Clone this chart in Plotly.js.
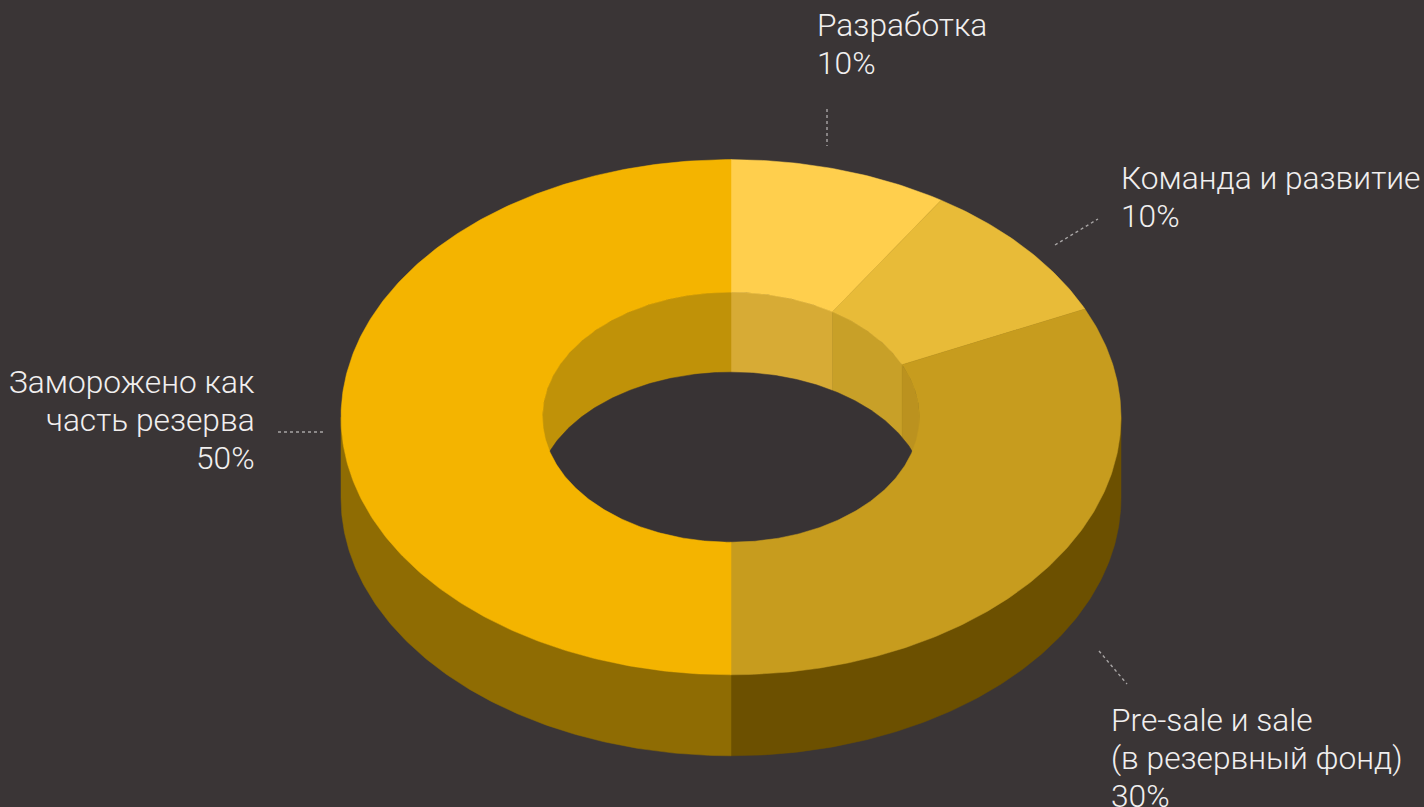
<!DOCTYPE html>
<html>
<head>
<meta charset="utf-8">
<script src="https://cdn.plot.ly/plotly-3.0.1.min.js"></script>
<style>html,body{margin:0;padding:0;background:#3a3536;overflow:hidden}#chart{width:1424px;height:807px}</style>
</head>
<body>
<div id="chart"></div>
<script>
// Data
const categories = ['Разработка', 'Команда и развитие', 'Pre-sale и sale|(в резервный фонд)', 'Заморожено как|часть резерва'];
const percentLabels = ['10%', '10%', '30%', '50%'];
// Drawn share of the ring per slice (as it appears in the picture, in percent of the turn)
const drawnShares = [9.05, 9.05, 31.9, 50];
const topColors = ['#ffcf4d', '#e8bb38', '#c79c1e', '#f4b400'];
const innerWallColors = ['#d7ab35', '#c8a028', '#bb921f', '#c09208'];
const outerWallColors = ['#6c5000', '#8f6c03'];

const labelX = [817, 1121, 1111, 255];
const labelY = [25, 178, 720, 382];
const labelAnchor = ['left', 'left', 'left', 'right'];
const leaderX = [[827, 827], [1055, 1098], [1099, 1127], [278, 323]];
const leaderY = [[109, 146], [245, 219], [651, 684], [432, 432]];

// Ring geometry
const cx = 731, cy = 417.2, rxO = 390, ryO = 257.6, rxI = 188.5, ryI = 125, rxF = 195, depthO = 81, depthI = 80;
const lineStep = 38;

function pt(deg, rx, ry, dy) {
  const a = deg * Math.PI / 180;
  return [cx + rx * Math.sin(a), cy - ry * Math.cos(a) + dy];
}
function arc(d0, d1, rx, ry, dy) {
  const n = Math.max(2, Math.ceil(Math.abs(d1 - d0) * 1.5));
  const out = [];
  for (let i = 0; i <= n; i++) out.push(pt(d0 + (d1 - d0) * i / n, rx, ry, dy));
  return out;
}
function poly(points, color) {
  points = points.concat([points[0]]);
  return {
    type: 'scatter', mode: 'lines', fill: 'toself', fillcolor: color,
    x: points.map(p => p[0]), y: points.map(p => p[1]),
    line: {color: color, width: 0.5}, hoverinfo: 'skip', showlegend: false
  };
}

const traces = [];
// Slice boundaries from the shares
const bounds = [0];
drawnShares.forEach(s => bounds.push(bounds[bounds.length - 1] + s * 3.6));

// Outer wall: front half only
traces.push(poly(arc(90, 180, rxO, ryO, 0).concat(arc(180, 90, rxO, ryO, depthO)), outerWallColors[0]));
traces.push(poly(arc(180, 270, rxO, ryO, 0).concat(arc(270, 180, rxO, ryO, depthO)), outerWallColors[1]));

// Inner wall: far half of the hole, running down past the floor
drawnShares.forEach((s, i) => {
  const d0 = Math.max(bounds[i], bounds[i] >= 180 ? 270 : bounds[i]);
  const d1 = bounds[i] >= 180 ? bounds[i + 1] : Math.min(bounds[i + 1], 90);
  traces.push(poly(arc(d0, d1, rxI, ryI, 0).concat(arc(d1, d0, rxI, ryI, depthI + 30)), innerWallColors[i]));
});

// Hole floor
traces.push(poly(arc(0, 360, rxF, ryI, depthI), '#383334'));

// Top face of the ring, hiding all that lies outside the hole
drawnShares.forEach((s, i) => {
  traces.push(poly(arc(bounds[i], bounds[i + 1], rxO, ryO, 0).concat(arc(bounds[i + 1], bounds[i], rxI, ryI, 0)), topColors[i]));
});

// Dotted leader lines
leaderX.forEach((xs, i) => {
  traces.push({
    type: 'scatter', mode: 'lines', x: xs, y: leaderY[i],
    line: {color: '#a8a5a5', width: 1.4, dash: '3px,3px'}, hoverinfo: 'skip', showlegend: false
  });
});

const annotations = [];
categories.forEach((c, i) => {
  c.split('|').concat([percentLabels[i]]).forEach((line, k) => {
    annotations.push({
      xref: 'x', yref: 'y', x: labelX[i], y: labelY[i] + k * lineStep,
      text: line, showarrow: false, xanchor: labelAnchor[i], yanchor: 'middle', align: labelAnchor[i],
      borderpad: 0, borderwidth: 0,
      font: {family: 'Roboto, sans-serif', size: 31.7, weight: 300, color: '#f1efef'}
    });
  });
});

const axis = {visible: false, fixedrange: true, showgrid: false, zeroline: false};
const layout = {
  width: 1424, height: 807,
  margin: {l: 0, r: 0, t: 0, b: 0},
  paper_bgcolor: '#3a3536', plot_bgcolor: '#3a3536',
  xaxis: Object.assign({range: [0, 1424]}, axis),
  yaxis: Object.assign({range: [807, 0]}, axis),
  annotations: annotations,
  showlegend: false
};
Plotly.newPlot('chart', traces, layout, {displayModeBar: false, staticPlot: true});
</script>
</body>
</html>
